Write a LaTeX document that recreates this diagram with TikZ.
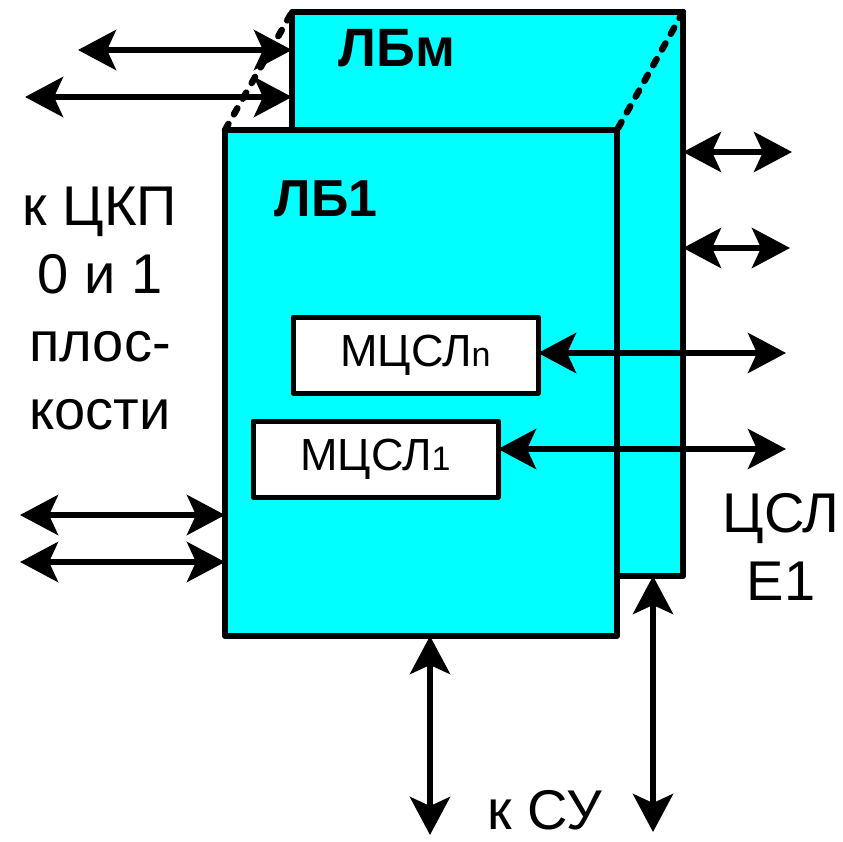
\documentclass[tikz,border=0pt]{standalone}
\usepackage{fontspec}
\setmainfont{Liberation Sans}
\usetikzlibrary{arrows.meta}
\definecolor{boxcyan}{HTML}{00FFFF}
\tikzset{
  bigbox/.style={draw=black, fill=boxcyan, line width=6pt, inner sep=0pt, outer sep=0pt, line join=round},
  modbox/.style={draw=black, fill=white, line width=5pt, inner sep=0pt, outer sep=0pt, line join=round,
    font=\fontsize{45}{50}\selectfont},
  link/.style={line width=6pt, {Stealth[length=38pt,width=40pt,inset=9pt]}-{Stealth[length=38pt,width=40pt,inset=9pt]}},
  hidden/.style={line width=6.5pt, dash pattern=on 7pt off 11pt, line cap=round},
  lbl/.style={font=\fontsize{56}{68}\selectfont, align=center, inner sep=0pt, anchor=base},
  title/.style={font=\fontsize{52}{58}\selectfont\bfseries, inner sep=0pt, anchor=base}
}
\begin{document}
\begin{tikzpicture}[x=1pt,y=-1pt]
\useasboundingbox (0,0) rectangle (842,842);
% back box
\node[bigbox, minimum width=391pt, minimum height=564pt] (lbm) at (487.5,294) {};
% front box
\node[bigbox, minimum width=392pt, minimum height=506pt] (lb1) at (421,383) {};
% dashed hidden edges
\draw[hidden] (lb1.north west) -- (lbm.north west);
\draw[hidden] (lbm.north east) -- (lb1.north east);
% modules
\node[modbox, minimum width=245pt, minimum height=76pt] (mn) at (415.5,355) {МЦСЛ{\fontsize{34}{40}\selectfont n}};
\node[modbox, minimum width=245pt, minimum height=76pt] (m1) at (375.5,459) {МЦСЛ{\fontsize{34}{40}\selectfont 1}};
% titles
\node[title, font=\fontsize{54}{60}\selectfont\bfseries] (tm) at (397,67) {ЛБм};
\node[title] (t1) at (326,216) {ЛБ1};
% coordinates of free ends
\coordinate (a1) at (78,50);   \coordinate (a1e) at (lbm.west |- 0,50);
\coordinate (a2) at (25,97);   \coordinate (a2e) at (lbm.west |- 0,97);
\coordinate (b1) at (20,515);  \coordinate (b1e) at (lb1.west |- 0,515);
\coordinate (b2) at (20,562);  \coordinate (b2e) at (lb1.west |- 0,562);
\coordinate (r1) at (792,152); \coordinate (r1s) at (lbm.east |- 0,152);
\coordinate (r2) at (790,248); \coordinate (r2s) at (lbm.east |- 0,248);
\coordinate (rn) at (786,353); \coordinate (rns) at (mn.east |- 0,353);
\coordinate (rr1) at (786,449); \coordinate (rr1s) at (m1.east |- 0,449);
\coordinate (d1) at (430,835); \coordinate (d1s) at (lb1.south -| 430,0);
\coordinate (d2) at (653,832); \coordinate (d2s) at (lbm.south -| 653,0);
% connectors
\draw[link] (a1) -- (a1e);
\draw[link] (a2) -- (a2e);
\draw[link] (b1) -- (b1e);
\draw[link] (b2) -- (b2e);
\draw[link] (r1s) -- (r1);
\draw[link] (r2s) -- (r2);
\draw[link] (rns) -- (rn);
\draw[link] (rr1s) -- (rr1);
\draw[link] (d1s) -- (d1);
\draw[link] (d2s) -- (d2);
% labels
\node[lbl, anchor=north] (ckp) at (100,187) {к ЦКП\\0 и 1\\плос-\\кости};
\node[lbl, anchor=north] (csl) at (781,493) {ЦСЛ\\Е1};
\node[lbl] (su) at (545,829) {к СУ};
\end{tikzpicture}
\end{document}
